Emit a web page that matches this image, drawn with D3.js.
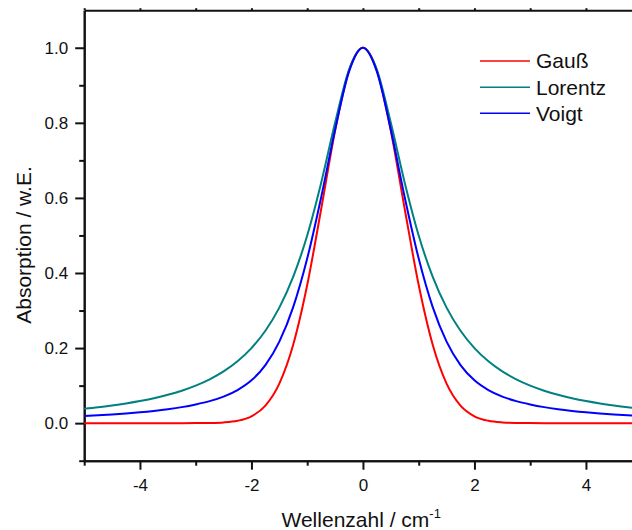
<!DOCTYPE html>
<html>
<head>
<meta charset="utf-8">
<script src="https://cdn.jsdelivr.net/npm/d3@7"></script>
<style>
  html, body { margin: 0; padding: 0; background: #fff; }
  svg { display: block; font-family: "Liberation Sans", Arial, sans-serif; }
  .axis path, .axis line { stroke: #111; stroke-width: 2; }
  .axis text { fill: #111; font-size: 17px; font-family: "Liberation Sans", Arial, sans-serif; }
</style>
</head>
<body>
<div id="chart"></div>
<script>
/* Linienprofile: Gauß, Lorentz, Voigt */

const wavenumber = [-5, -4.75, -4.5, -4.25, -4, -3.75, -3.5, -3.25, -3, -2.75, -2.5, -2.25, -2, -1.75, -1.5, -1.25, -1, -0.75, -0.5, -0.25,
  0, 0.25, 0.5, 0.75, 1, 1.25, 1.5, 1.75, 2, 2.25, 2.5, 2.75, 3, 3.25, 3.5, 3.75, 4, 4.25, 4.5, 4.75, 5];

const gauss = [0, 0, 0, 0, 0, 0, 0, 0, 0.0001, 0.0005, 0.0019, 0.0063, 0.0183, 0.0468, 0.1054, 0.2096, 0.3679, 0.5698, 0.7788, 0.9394,
  1, 0.9394, 0.7788, 0.5698, 0.3679, 0.2096, 0.1054, 0.0468, 0.0183, 0.0063, 0.0019, 0.0005, 0.0001, 0, 0, 0, 0, 0, 0, 0, 0];

const lorentz = [0.0385, 0.0424, 0.0471, 0.0525, 0.0588, 0.0664, 0.0755, 0.0865, 0.1, 0.1168, 0.1379, 0.1649, 0.2, 0.2462, 0.3077, 0.3902, 0.5, 0.64, 0.8, 0.9412,
  1, 0.9412, 0.8, 0.64, 0.5, 0.3902, 0.3077, 0.2462, 0.2, 0.1649, 0.1379, 0.1168, 0.1, 0.0865, 0.0755, 0.0664, 0.0588, 0.0525, 0.0471, 0.0424, 0.0385];

const voigt = [0.0188, 0.0208, 0.0231, 0.0258, 0.0289, 0.0327, 0.0372, 0.0427, 0.0498, 0.0586, 0.0707, 0.0881, 0.114, 0.1546, 0.2171, 0.3098, 0.4385, 0.6013, 0.7815, 0.9362,
  1, 0.9362, 0.7815, 0.6013, 0.4385, 0.3098, 0.2171, 0.1546, 0.114, 0.0881, 0.0707, 0.0586, 0.0498, 0.0427, 0.0372, 0.0327, 0.0289, 0.0258, 0.0231, 0.0208, 0.0188];

const seriesNames = ["Gauß", "Lorentz", "Voigt"];
const seriesColors = ["#ff0000", "#008080", "#0000ff"];

const xMajor = [-4, -2, 0, 2, 4];
const xMinor = [-5, -3, -1, 1, 3, 5];
const yMajor = [0, 0.2, 0.4, 0.6, 0.8, 1.0];
const yMinor = [-0.1, 0.1, 0.3, 0.5, 0.7, 0.9];

const W = 632, H = 530;
const svg = d3.select("#chart").append("svg").attr("width", W).attr("height", H);

// Plot geht rechts über den Bildrand hinaus (x = 5 liegt außerhalb)
const x = d3.scaleLinear().domain([-5, 5]).range([84.2, 641.7]);
const y = d3.scaleLinear().domain([-0.1, 1.1]).range([460.7, 10.2]);

/* Achsen (Bindestrich statt Unicode-Minus wie im Original) */
const xFmt = d => String(d);
svg.append("g").attr("class", "axis").attr("transform", `translate(0,${y(-0.1)})`)
  .call(d3.axisBottom(x).tickValues(xMinor).tickSize(5).tickSizeOuter(0).tickFormat(""));
svg.append("g").attr("class", "axis").attr("transform", `translate(0,${y(-0.1)})`)
  .call(d3.axisBottom(x).tickValues(xMajor).tickSize(9).tickPadding(9).tickSizeOuter(0).tickFormat(xFmt));
svg.append("g").attr("class", "axis").attr("transform", `translate(0,${y(1.1)})`)
  .call(d3.axisTop(x).tickValues(xMajor.concat(xMinor)).tickSize(2).tickSizeOuter(0).tickFormat(""));

svg.append("g").attr("class", "axis").attr("transform", `translate(${x(-5)},0)`)
  .call(d3.axisLeft(y).tickValues(yMinor).tickSize(5).tickSizeOuter(0).tickFormat(""));
svg.append("g").attr("class", "axis").attr("transform", `translate(${x(-5)},0)`)
  .call(d3.axisLeft(y).tickValues(yMajor).tickSize(9).tickPadding(7).tickSizeOuter(0).tickFormat(d => d.toFixed(1)));

/* Achsentitel */
const xt = svg.append("text").attr("x", 281.5).attr("y", 526.5)
  .attr("font-size", 21).attr("fill", "#111").text("Wellenzahl / cm");
xt.append("tspan").attr("font-size", 13).attr("dy", -8.5).text("-1");

svg.append("text")
  .attr("transform", `translate(30.5,${245}) rotate(-90)`)
  .attr("text-anchor", "middle").attr("font-size", 21).attr("fill", "#111")
  .text("Absorption / w.E.");

/* Kurven */
const line = d3.line().x((d, i) => x(wavenumber[i])).y(d => y(d)).curve(d3.curveMonotoneX);
[gauss, lorentz, voigt].forEach((vals, k) => {
  svg.append("path").attr("d", line(vals))
    .attr("fill", "none").attr("stroke", seriesColors[k]).attr("stroke-width", 2);
});

/* Legende */
const legendY = [61, 87.3, 113.3];
seriesNames.forEach((name, k) => {
  svg.append("line").attr("x1", 480).attr("x2", 530).attr("y1", legendY[k]).attr("y2", legendY[k])
    .attr("stroke", seriesColors[k]).attr("stroke-width", 1.6);
  svg.append("text").attr("x", 536).attr("y", legendY[k] + 7.3)
    .attr("font-size", 21).attr("fill", "#111").text(name);
});
</script>
</body>
</html>
